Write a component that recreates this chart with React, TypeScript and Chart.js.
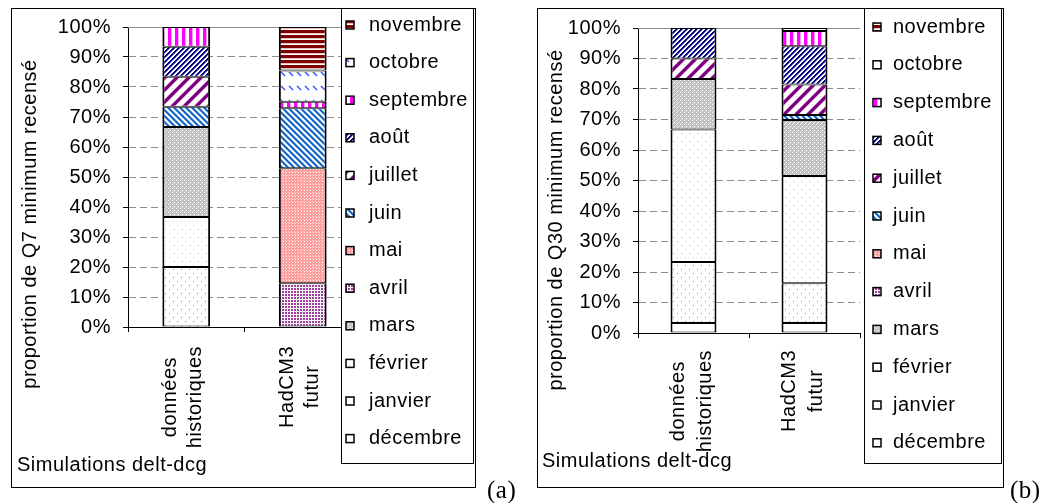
import React, { useEffect, useRef } from "react";
import { Chart, registerables } from "chart.js";

Chart.register(...registerables);

const FONT = "'Liberation Sans', Arial, sans-serif";
const FONT_SIZE = 20;
const LETTER_SPACING = "0.5px";

// ---- data ----
const months = ["décembre", "janvier", "février", "mars", "avril", "mai", "juin", "juillet", "août", "septembre", "octobre", "novembre"];
const categories = [["données", "historiques"], ["HadCM3", "futur"]];
const q7Historiques = [0, 20, 16.7, 30, 0, 0, 6.7, 10, 10, 6.6, 0, 0];
const q7Futur = [0, 0, 0, 0, 14.6, 38.3, 20, 0, 0, 2.2, 10.4, 14.5];
const q30Historiques = [3.3, 20, 43.4, 16.6, 0, 0, 0, 6.7, 10, 0, 0, 0];
const q30Futur = [3.3, 13, 35.2, 18.3, 0, 0, 1.7, 10, 12.5, 5, 0, 1];
const titleQ7 = "proportion de Q7 minimum recensé";
const titleQ30 = "proportion de Q30 minimum recensé";
const xTitle = "Simulations delt-dcg";
const yMin = 0;
const yMax = 100;
const yStep = 10;

// ---- patterns (styles) ----
function tile(w: number, h: number, draw: (c: CanvasRenderingContext2D) => void) {
  const t = document.createElement("canvas");
  t.width = w;
  t.height = h;
  const c = t.getContext("2d")!;
  c.fillStyle = "#fff";
  c.fillRect(0, 0, w, h);
  draw(c);
  return t;
}
function px(c: CanvasRenderingContext2D, x: number, y: number, col: string, w = 1, h = 1) {
  c.fillStyle = col;
  c.fillRect(x, y, w, h);
}
function makePatterns(ctx: CanvasRenderingContext2D): (CanvasPattern | string)[] {
  const tiles: HTMLCanvasElement[] = [
    // décembre
    tile(4, 4, () => {}),
    // janvier
    tile(8, 8, (c) => { px(c, 1, 1, "#cc6a9c"); px(c, 5, 5, "#cc6a9c"); }),
    // février
    tile(8, 8, (c) => { px(c, 1, 1, "#c4c4c4"); px(c, 5, 5, "#c4c4c4"); }),
    // mars
    tile(4, 4, (c) => { c.fillStyle = "#c2c2c2"; c.fillRect(0, 0, 4, 4); px(c, 0, 0, "#fff"); px(c, 2, 2, "#fff"); px(c, 1, 3, "#e2e2e2"); }),
    // avril
    tile(3, 3, (c) => { px(c, 0, 0, "#9b3d9b", 2, 2); px(c, 2, 2, "#efe0ef"); }),
    // mai
    tile(3, 3, (c) => { c.fillStyle = "#ff9c9c"; c.fillRect(0, 0, 3, 3); px(c, 1, 1, "#fff"); px(c, 0, 0, "#ffd2d2"); }),
    // juin
    tile(6, 6, (c) => {
      for (let x = 0; x < 6; x++) for (let y = 0; y < 6; y++) {
        const k = (x - y + 60) % 6;
        if (k === 0 || k === 1) px(c, x, y, "#1464c8");
        else if (k === 2 || k === 5) px(c, x, y, "#80b0e6");
      }
    }),
    // juillet
    tile(12, 12, (c) => {
      for (let x = 0; x < 12; x++) for (let y = 0; y < 12; y++) {
        const k = (x + y) % 12;
        if (k <= 3) px(c, x, y, "#800080");
        else if (k === 4 || k === 11) px(c, x, y, "#c890c8");
      }
    }),
    // août
    tile(5, 5, (c) => {
      for (let x = 0; x < 5; x++) for (let y = 0; y < 5; y++) {
        const k = (x + y) % 5;
        if (k <= 1) px(c, x, y, "#000080");
        else if (k === 2) px(c, x, y, "#6a6ab4");
      }
    }),
    // septembre
    tile(7, 1, (c) => { px(c, 0, 0, "#ff00ff", 3, 1); px(c, 3, 0, "#ffa0ff"); }),
    // octobre
    tile(8, 14, (c) => {
      c.strokeStyle = "#3050ff";
      c.lineWidth = 1.4;
      c.beginPath();
      c.moveTo(1, 2);
      c.lineTo(5, 6);
      c.stroke();
    }),
    // novembre
    tile(5, 5, (c) => { px(c, 0, 0, "#800000", 5, 3); px(c, 0, 3, "#e4c4c4", 5, 1); }),
  ];
  return tiles.map((t, i) => (i === 0 ? "#ffffff" : (ctx.createPattern(t, "repeat") as CanvasPattern)));
}

type Geom = {
  canvasLeft: number;
  canvasWidth: number;
  plotLeft: number;
  plotRight: number;
  plotTop: number;
  plotBottom: number;
  barPct: number;
  outer: [number, number, number, number];
  legend: [number, number, number, number];
  swatchX: number;
  textX: number;
  legendY0: number;
  legendStep: number;
  yTitleX: number;
  yTitleY: number;
  xTitleX: number;
  xTitleY: number;
  tag: string;
  tagX: number;
  tagY: number;
  catGap: number;
  catLine: number;
  catShift: number;
};

const geomA: Geom = {
  canvasLeft: 0, canvasWidth: 524,
  plotLeft: 128, plotRight: 361, plotTop: 27, plotBottom: 327, barPct: 0.41,
  outer: [11, 8, 475, 487], legend: [341, 8, 473, 463],
  swatchX: 346, textX: 369, legendY0: 25, legendStep: 37.6,
  yTitleX: 30, yTitleY: 224, xTitleX: 17, xTitleY: 471,
  tag: "(a)", tagX: 487, tagY: 498,
  catGap: 19, catLine: 25, catShift: -3,
};
const geomB: Geom = {
  canvasLeft: 524, canvasWidth: 525,
  plotLeft: 114, plotRight: 336, plotTop: 28, plotBottom: 333, barPct: 0.414,
  outer: [13, 8, 479, 487], legend: [340, 8, 477, 463],
  swatchX: 349, textX: 369, legendY0: 27, legendStep: 37.8,
  yTitleX: 32, yTitleY: 220, xTitleX: 18, xTitleY: 467,
  tag: "(b)", tagX: 486, tagY: 498,
  catGap: 17, catLine: 27, catShift: -2,
};

const H = 503;
const X_AXIS_H = 60;

function Panel({ geom, series, yTitle }: { geom: Geom; series: number[][]; yTitle: string }) {
  const ref = useRef<HTMLCanvasElement | null>(null);
  useEffect(() => {
    const canvas = ref.current!;
    const ctx = canvas.getContext("2d")!;
    const pats = makePatterns(ctx);
    const g = geom;
    const font = `${FONT_SIZE}px ${FONT}`;

    const decor = {
      id: "decor",
      beforeLayout(chart: any) {
        chart.ctx.letterSpacing = LETTER_SPACING;
      },
      beforeDraw(chart: any) {
        const c = chart.ctx as CanvasRenderingContext2D;
        (c as any).letterSpacing = LETTER_SPACING;
        c.save();
        c.fillStyle = "#fff";
        c.fillRect(0, 0, chart.width, chart.height);
        c.restore();
      },
      beforeDatasetsDraw(chart: any) {
        const c = chart.ctx as CanvasRenderingContext2D;
        const a = chart.chartArea;
        c.save();
        c.strokeStyle = "#8c8c8c";
        c.lineWidth = 1;
        c.beginPath();
        c.moveTo(a.left, Math.round(a.top) + 0.5);
        c.lineTo(a.right, Math.round(a.top) + 0.5);
        c.stroke();
        c.restore();
      },
      afterDraw(chart: any) {
        const c = chart.ctx as CanvasRenderingContext2D;
        const a = chart.chartArea;
        const xs = chart.scales.x;
        c.save();
        (c as any).letterSpacing = LETTER_SPACING;
        c.font = font;
        c.fillStyle = "#000";
        // category labels (rotated, multi-line centered)
        categories.forEach((lines, i) => {
          const cx = xs.getPixelForValue(i) + g.catShift;
          const widths = lines.map((l) => c.measureText(l).width);
          const maxW = Math.max(...widths);
          const cy = a.bottom + g.catGap + maxW / 2;
          lines.forEach((l, j) => {
            const lx = cx + (j - (lines.length - 1) / 2) * g.catLine;
            c.save();
            c.translate(lx, cy);
            c.rotate(-Math.PI / 2);
            c.textAlign = "center";
            c.textBaseline = "middle";
            c.fillText(l, 0, 0);
            c.restore();
          });
        });
        // y title
        c.save();
        c.translate(g.yTitleX, g.yTitleY);
        c.rotate(-Math.PI / 2);
        c.textAlign = "center";
        c.textBaseline = "middle";
        c.fillText(yTitle, 0, 0);
        c.restore();
        // x title
        c.textAlign = "left";
        c.textBaseline = "alphabetic";
        c.fillText(xTitle, g.xTitleX, g.xTitleY);
        // legend box
        const [lx0, ly0, lx1, ly1] = g.legend;
        c.fillStyle = "#fff";
        c.fillRect(lx0, ly0, lx1 - lx0, ly1 - ly0);
        c.strokeStyle = "#000";
        c.lineWidth = 1;
        c.strokeRect(lx0 + 0.5, ly0 + 0.5, lx1 - lx0, ly1 - ly0);
        for (let k = 0; k < months.length; k++) {
          const mi = months.length - 1 - k;
          const y = g.legendY0 + k * g.legendStep;
          c.fillStyle = pats[mi] as any;
          c.fillRect(g.swatchX, y - 4, 8, 8);
          c.strokeStyle = "#000";
          c.lineWidth = 1.5;
          c.strokeRect(g.swatchX, y - 4, 8, 8);
          c.fillStyle = "#000";
          c.textAlign = "left";
          c.textBaseline = "middle";
          c.fillText(months[mi], g.textX, y);
        }
        // outer border
        const [ox0, oy0, ox1, oy1] = g.outer;
        c.strokeStyle = "#000";
        c.lineWidth = 1;
        c.strokeRect(ox0 + 0.5, oy0 + 0.5, ox1 - ox0, oy1 - oy0);
        // tag
        c.font = `25px 'Liberation Serif', 'Times New Roman', serif`;
        c.fillStyle = "#000";
        c.textAlign = "left";
        c.textBaseline = "alphabetic";
        c.fillText(g.tag, g.tagX, g.tagY);
        c.restore();
      },
    };

    const chart = new Chart(ctx, {
      type: "bar",
      data: {
        labels: categories.map((l) => l.join(" ")),
        datasets: months.map((m, i) => ({
          label: m,
          data: series.map((s) => s[i]),
          backgroundColor: pats[i] as any,
          borderColor: "#000",
          borderWidth: { top: 1, bottom: 1, left: 2, right: 2 },
          borderSkipped: false,
          barPercentage: g.barPct,
          categoryPercentage: 1,
        })),
      },
      options: {
        responsive: false,
        animation: false,
        devicePixelRatio: 1,
        layout: {
          padding: {
            left: 0,
            top: g.plotTop,
            right: g.canvasWidth - g.plotRight,
            bottom: H - g.plotBottom - X_AXIS_H,
          },
        },
        plugins: { legend: { display: false }, tooltip: { enabled: false }, title: { display: false } },
        scales: {
          x: {
            stacked: true,
            ticks: { display: false },
            grid: { display: true, drawOnChartArea: false, drawTicks: true, tickLength: 5, color: "#000", tickColor: "#000", offset: true },
            border: { display: true, color: "#000", width: 1 },
            afterFit: (s: any) => { s.height = X_AXIS_H; },
          },
          y: {
            stacked: true,
            min: yMin,
            max: yMax,
            ticks: {
              stepSize: yStep,
              color: "#000",
              padding: 12,
              font: { family: FONT, size: FONT_SIZE },
              callback: (v: any) => `${v}%`,
            },
            grid: {
              color: (cx: any) => (cx.tick && (cx.tick.value === yMin || cx.tick.value === yMax) ? "rgba(0,0,0,0)" : "#8c8c8c"),
              tickColor: "#000",
              tickLength: 5,
              lineWidth: 1,
            },
            border: { display: true, color: "#000", width: 1, dash: [7, 4] },
            afterFit: (s: any) => { s.width = g.plotLeft; },
          },
        },
      },
      plugins: [decor],
    });
    return () => chart.destroy();
  }, []);
  return (
    <canvas
      ref={ref}
      width={geom.canvasWidth}
      height={H}
      style={{ position: "absolute", left: geom.canvasLeft, top: 0, width: geom.canvasWidth, height: H }}
    />
  );
}

export default function App() {
  return (
    <div style={{ position: "absolute", left: 0, top: 0, width: 1049, height: 503, background: "#fff" }}>
      <Panel geom={geomA} series={[q7Historiques, q7Futur]} yTitle={titleQ7} />
      <Panel geom={geomB} series={[q30Historiques, q30Futur]} yTitle={titleQ30} />
    </div>
  );
}
